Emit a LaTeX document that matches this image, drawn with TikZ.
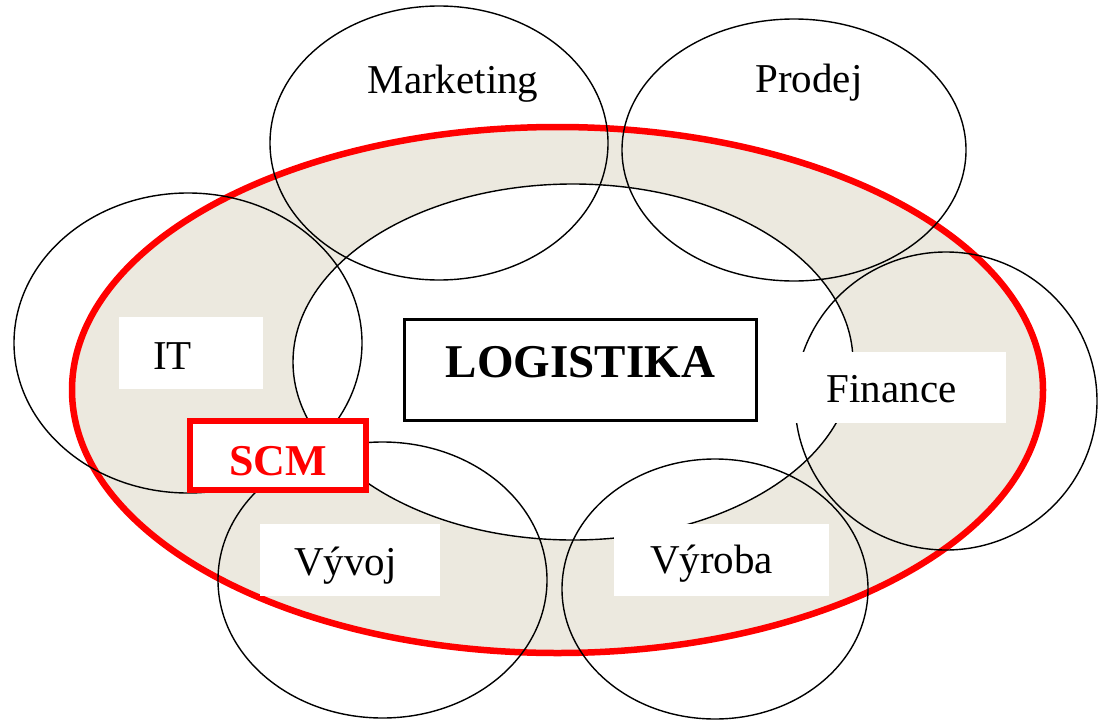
\documentclass[tikz,border=0pt]{standalone}
\usepackage{fontspec}
\setmainfont{Liberation Serif}
\usetikzlibrary{positioning}
\definecolor{ringbeige}{RGB}{236,233,223}
\tikzset{ring/.style = {draw, line width = 1.4pt}}
\tikzset{whitebox/.style = {fill = white}}
\tikzset{lbl/.style = {anchor = base, inner sep = 0, font = \fontsize{41}{45}\selectfont}}

\begin{document}
\begin{tikzpicture}[x=1pt, y=-1pt]
        \useasboundingbox (0,0) rectangle (1100,720);
        \filldraw [fill=ringbeige, draw=red, line width=6.5pt] (557.5,390) ellipse [x radius=485.5, y radius=263];
        \filldraw [ring, fill=white] (573,362) ellipse [x radius=280, y radius=178];
        % departments
        \draw [ring] (439,143) ellipse [x radius=169, y radius=137];
        \draw [ring] (794,150) ellipse [x radius=172, y radius=131];
        \draw [ring] (188,343) ellipse [x radius=174, y radius=150];
        \draw [ring] (946,401) ellipse [x radius=151, y radius=149];
        \draw [ring] (382.5,580) ellipse [x radius=164.5, y radius=138];
        \draw [ring] (715,589) ellipse [x radius=153, y radius=130];
        \fill [whitebox] (119,317) rectangle (263,389);
        \fill [whitebox] (777,352) rectangle (1006,423);
        \fill [whitebox] (260,524) rectangle (440,596);
        \fill [whitebox] (614,524) rectangle (829,596);
        \node [lbl] (marketing) at (453,93) {Marketing};
        \node [lbl] (prodej) at (809,92) {Prodej};
        \node [lbl] (it) at (172.5,369) {IT};
        \node [lbl] (finance) at (891.5,402) {Finance};
        \node [lbl] (vyvoj) at (345.5,575) {Vývoj};
        \node [lbl] (vyroba) at (711.5,573) {Výroba};
        \node [draw, line width=3pt, fill=white, inner sep=0, minimum width=352pt, minimum height=101pt,
               text height=14pt, text depth=0pt, font=\bfseries\fontsize{47}{50}\selectfont] (logistika) at (580.5,370) {LOGISTIKA};
        \node [draw=red, text=red, line width=5.7pt, fill=white, inner sep=0, minimum width=176pt, minimum height=69pt,
               text height=39pt, text depth=0pt, font=\bfseries\fontsize{44}{48}\selectfont] (scm) at (278,455.5) {SCM};
\end{tikzpicture}
\end{document}
